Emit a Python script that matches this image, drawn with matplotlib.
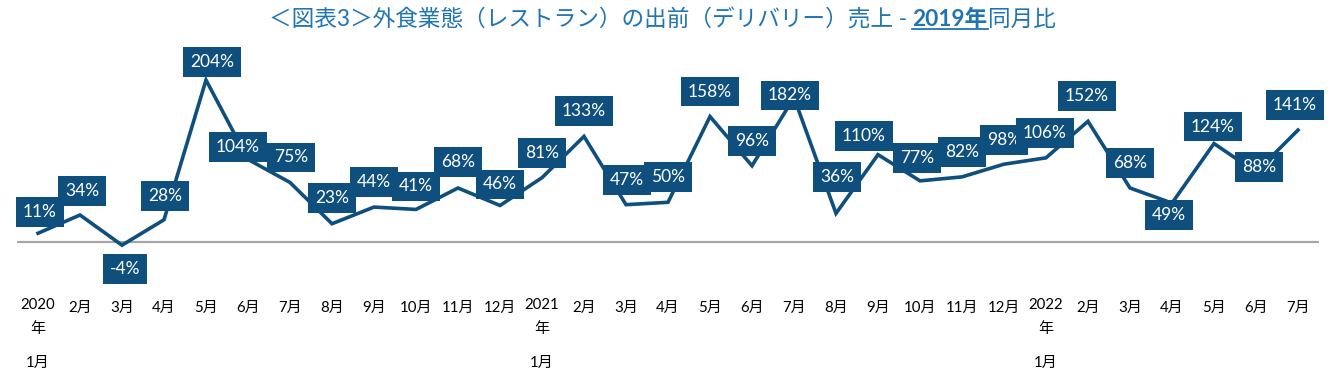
import matplotlib
matplotlib.use("Agg")
import matplotlib.pyplot as plt
import matplotlib.transforms as mtransforms

# ---------------- data ----------------
tick_labels = ["2020年1月", "2月", "3月", "4月", "5月", "6月", "7月", "8月", "9月", "10月", "11月", "12月",
               "2021年1月", "2月", "3月", "4月", "5月", "6月", "7月", "8月", "9月", "10月", "11月", "12月",
               "2022年1月", "2月", "3月", "4月", "5月", "6月", "7月"]
values = [11, 34, -4, 28, 204, 104, 75, 23, 44, 41, 68, 46,
          81, 133, 47, 50, 158, 96, 182, 36, 110, 77, 82, 98,
          106, 152, 68, 49, 124, 88, 141]
title_parts = ["＜図表3＞外食業態（レストラン）の出前（デリバリー）売上 - ", "2019年", "同月比"]

# label offsets in pixels (dx, dy up) -- layout only
label_offsets = [(2, 21), (2, 24), (3, -24), (1, 24), (6, 18), (-10, 12), (1, 25), (0, 26),
                 (0, 25), (0, 23), (0, 26), (0, 21), (0, 25), (0, 25), (1, 25), (0, 25),
                 (0, 25), (0, 25), (-4, 2), (1, 36), (-14, 19), (-3, 23), (0, 25), (0, 24),
                 (-1, 25), (-1, 25), (0, 25), (-3, -12), (-1, 17), (3, 5), (-3, 25)]

# ---------------- style ----------------
FONT = ["Lato", "Noto Sans CJK JP", "DejaVu Sans"]
plt.rcParams["font.family"] = FONT
DARK = "#0E4F7E"
TITLE_C = "#1F74B3"
W, H = 1334, 386

fig = plt.figure(figsize=(W / 100, H / 100), dpi=100)
ax_top, ax_bot, zero_px, px_per = 40, 290, 242, 0.794
ax = fig.add_axes([17 / W, 1 - ax_bot / H, 1302 / W, (ax_bot - ax_top) / H])
ax.set_xlim(-0.5, len(values) - 0.5)
ax.set_ylim(-(ax_bot - zero_px) / px_per, (zero_px - ax_top) / px_per)
ax.axis("off")

x = list(range(len(values)))
ax.axhline(0, color="#A6A6A6", lw=1.6, zorder=1)
ax.plot(x, values, color=DARK, lw=2.6, solid_joinstyle="miter", zorder=2)

for xi, v, (dx, dy) in zip(x, values, label_offsets):
    ax.annotate(f"{v}%", (xi, v), xytext=(dx, dy), textcoords="offset pixels",
                ha="center", va="center", color="white", fontsize=12.5,
                bbox=dict(boxstyle="square,pad=0.4", fc=DARK, ec="none"), zorder=5)

trans = mtransforms.blended_transform_factory(ax.transData, fig.transFigure)
for xi, lab in zip(x, tick_labels):
    if "年" in lab:
        yr, mo = lab.split("年")
        ax.text(xi, 1 - 305 / H, yr, transform=trans, ha="center", va="center", fontsize=10.8)
        ax.text(xi, 1 - 329 / H, "年", transform=trans, ha="center", va="center", fontsize=10.8)
        ax.text(xi, 1 - 363 / H, mo, transform=trans, ha="center", va="center", fontsize=10.8)
    else:
        ax.text(xi, 1 - 308 / H, lab, transform=trans, ha="center", va="center", fontsize=10.8)

# ---------------- title (mixed style) ----------------
renderer = fig.canvas.get_renderer()
ty = 1 - 19 / H
texts = []
for i, part in enumerate(title_parts):
    bold = (i == 1)
    t = fig.text(0, ty, part, ha="left", va="center", fontsize=16.3, color=TITLE_C,
                 fontweight="bold" if bold else "normal")
    texts.append(t)
widths = [t.get_window_extent(renderer).width for t in texts]
total = sum(widths)
start = 662 - total / 2
cur = start
for t, w in zip(texts, widths):
    t.set_x(cur / W)
    cur += w
# underline the bold part
b = texts[1].get_window_extent(renderer)
ux0 = (start + widths[0]) / W
ux1 = (start + widths[0] + widths[1]) / W
uy = (b.y0 + 1) / H
fig.add_artist(plt.Line2D([ux0, ux1], [uy, uy], color=TITLE_C, lw=1.3, transform=fig.transFigure))

fig.savefig("out.png", dpi=100)
